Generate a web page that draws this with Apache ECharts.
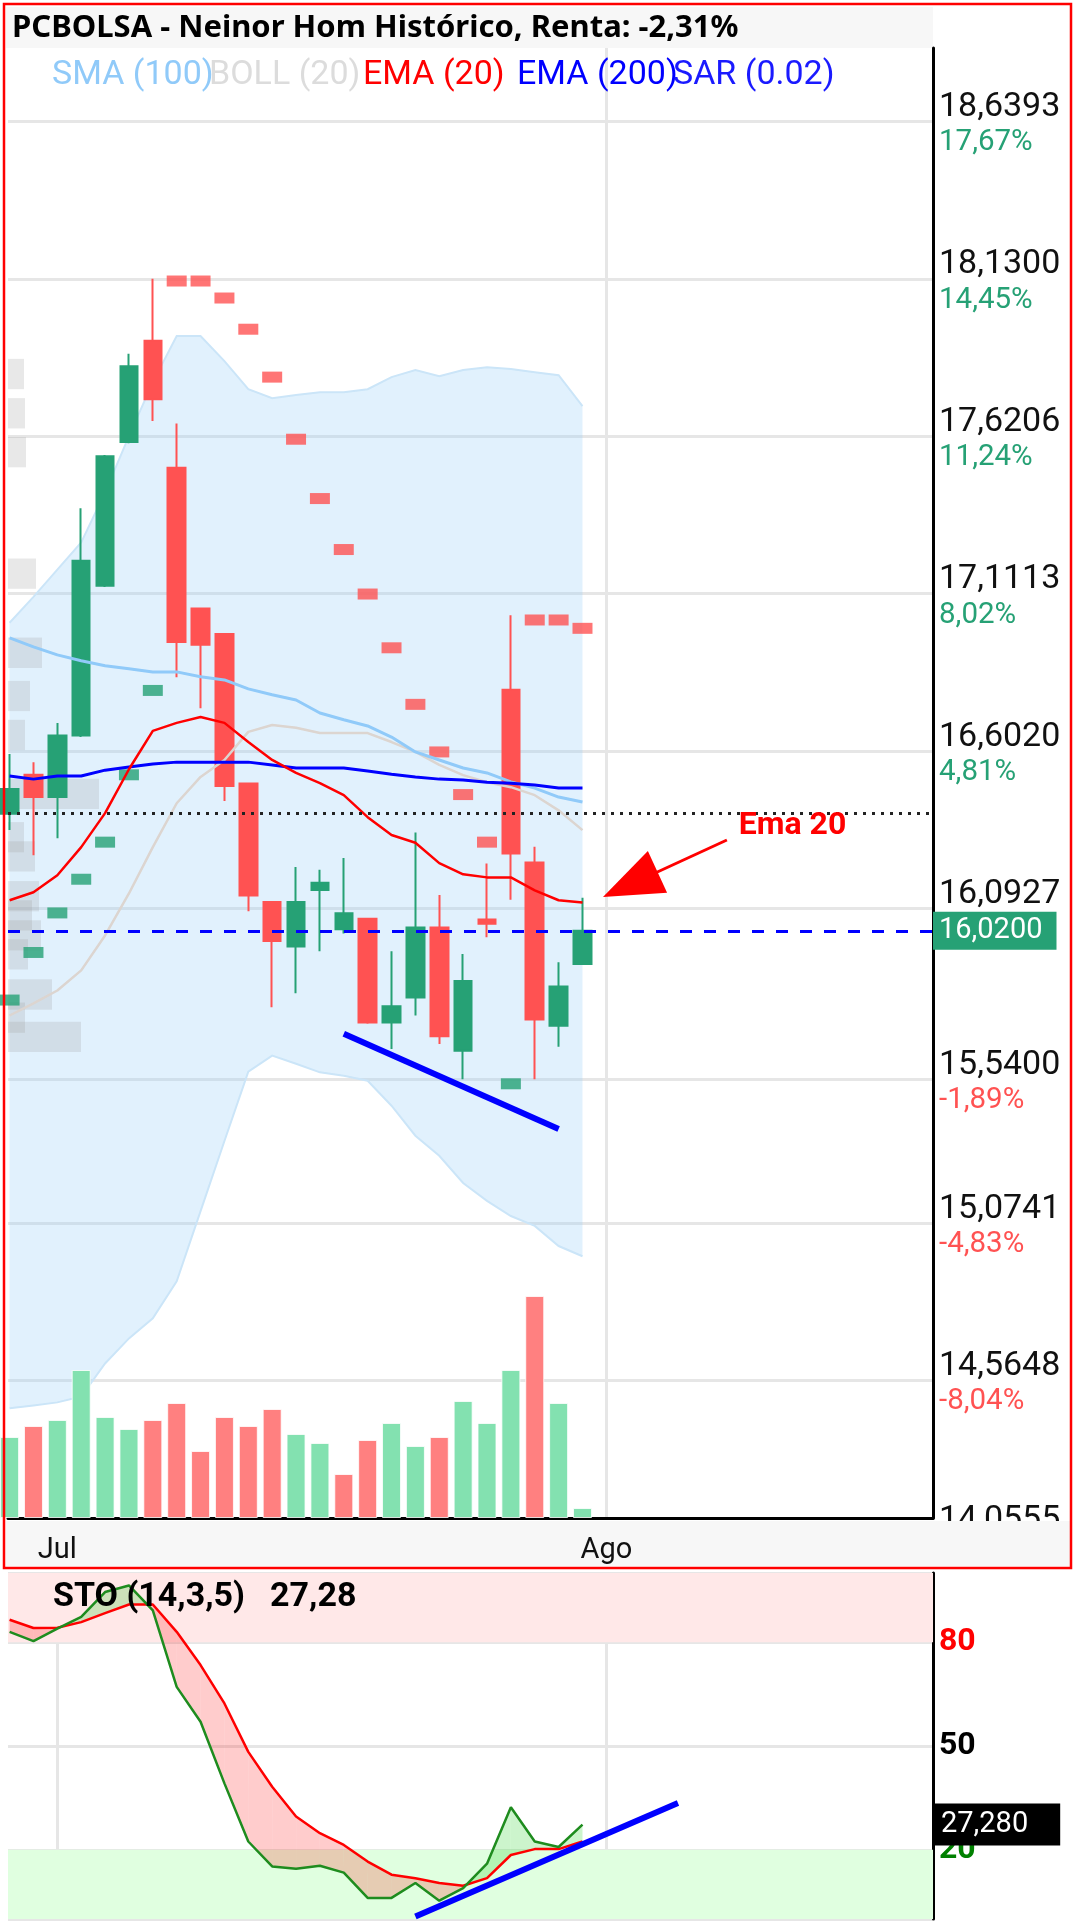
<!DOCTYPE html>
<html>
<head>
<meta charset="utf-8">
<script src="https://cdn.jsdelivr.net/npm/echarts@6/dist/echarts.min.js"></script>
<style>
  html, body { margin: 0; padding: 0; background: #fff; }
  #chart { width: 1076px; height: 1925px; }
</style>
</head>
<body>
<div id="chart"></div>
<script>
// sessions shown (index 0..24), month marks on the time axis
const dates = ['2024-06-27', '2024-06-28', '2024-07-01', '2024-07-02', '2024-07-03', '2024-07-04', '2024-07-05',
  '2024-07-08', '2024-07-09', '2024-07-10', '2024-07-11', '2024-07-12', '2024-07-15', '2024-07-16', '2024-07-17',
  '2024-07-18', '2024-07-19', '2024-07-22', '2024-07-23', '2024-07-24', '2024-07-25', '2024-07-26', '2024-07-29',
  '2024-07-30', '2024-07-31'];
const monthTicks = [2, 25];
const monthLabels = ['Jul', 'Ago'];

// OHLC
const open = [16.399, 16.525, 16.453, 16.652, 17.137, 17.602, 17.930, 17.519, 17.063, 16.981, 16.497, 16.113, 15.969,
  16.152, 16.025, 16.059, 15.723, 15.804, 16.031, 15.632, 16.057, 16.800, 16.241, 15.713, 15.913];
const close = [16.479, 16.453, 16.652, 17.218, 17.556, 17.847, 17.740, 16.955, 16.946, 16.489, 16.134, 15.987, 16.113,
  16.176, 16.077, 15.723, 15.776, 16.031, 15.679, 15.858, 16.043, 16.270, 15.733, 15.840, 16.020];
const low = [16.346, 16.265, 16.320, 16.647, 17.133, 17.598, 17.670, 16.841, 16.740, 16.440, 16.083, 15.773, 15.818,
  15.954, 16.011, 15.719, 15.638, 15.746, 15.654, 15.540, 15.999, 16.121, 15.540, 15.645, 15.910];
const high = [16.592, 16.566, 16.693, 17.388, 17.560, 17.888, 18.130, 17.662, 17.063, 16.981, 16.497, 16.113, 16.227,
  16.218, 16.256, 16.059, 15.954, 16.338, 16.136, 15.945, 16.238, 17.041, 16.292, 15.918, 16.127];
const volume = [81, 92, 98, 148, 101, 89, 98, 115, 67, 101, 92, 109, 84, 75, 44, 78, 95, 72, 81, 117, 95, 148, 222, 115, 10];

// indicators
const sar = [15.796, 15.950, 16.078, 16.187, 16.307, 16.525, 16.798, 18.123, 18.123, 18.068, 17.967, 17.812, 17.611,
  17.419, 17.254, 17.110, 16.936, 16.753, 16.599, 16.461, 16.307, 15.525, 17.026, 17.026, 16.999];
const bollUpper = [17.017, 17.101, 17.189, 17.277, 17.439, 17.621, 17.796, 17.945, 17.945, 17.864, 17.773, 17.744, 17.754,
  17.763, 17.763, 17.773, 17.812, 17.835, 17.815, 17.835, 17.844, 17.838, 17.828, 17.818, 17.718];
const bollLower = [14.475, 14.484, 14.494, 14.513, 14.620, 14.701, 14.766, 14.886, 15.113, 15.340, 15.564, 15.616, 15.590,
  15.562, 15.551, 15.535, 15.454, 15.357, 15.292, 15.204, 15.146, 15.097, 15.065, 15.000, 14.967];
const bollMid = [15.746, 15.785, 15.827, 15.892, 16.005, 16.141, 16.291, 16.433, 16.518, 16.573, 16.664, 16.686, 16.677,
  16.660, 16.660, 16.660, 16.631, 16.599, 16.557, 16.524, 16.501, 16.485, 16.459, 16.410, 16.346];
const sma100 = [16.968, 16.939, 16.913, 16.894, 16.878, 16.868, 16.858, 16.858, 16.842, 16.832, 16.803, 16.784, 16.767,
  16.725, 16.703, 16.683, 16.647, 16.599, 16.573, 16.547, 16.531, 16.502, 16.482, 16.453, 16.437];
const ema200 = [16.521, 16.511, 16.521, 16.521, 16.540, 16.550, 16.560, 16.566, 16.566, 16.566, 16.566, 16.557, 16.547,
  16.547, 16.547, 16.537, 16.527, 16.518, 16.511, 16.508, 16.501, 16.498, 16.492, 16.482, 16.482];
const ema20 = [16.119, 16.145, 16.200, 16.291, 16.401, 16.543, 16.667, 16.693, 16.712, 16.693, 16.631, 16.573, 16.531,
  16.498, 16.459, 16.388, 16.330, 16.305, 16.239, 16.203, 16.193, 16.193, 16.151, 16.119, 16.112];

// volume at price (left profile)
const profilePrice = [17.822, 17.695, 17.569, 17.176, 16.920, 16.780, 16.654, 16.463, 16.323, 16.261, 16.132, 16.070,
  16.005, 15.944, 15.814, 15.739, 15.677];
const profileVol = [16, 17, 18, 28, 34, 22, 17, 91, 16, 27, 31, 24, 33, 20, 44, 17, 73];
const profileBin = 0.098;

// stochastic (14,3,5)
const stoK = [83.0, 80.3, 83.9, 87.3, 94.5, 96.4, 89.2, 67.1, 57.0, 39.2, 22.4, 15.2, 14.5, 15.4, 13.4, 6.1, 6.1, 10.4,
  5.3, 8.9, 16.0, 32.3, 22.4, 20.8, 27.28];
const stoD = [86.5, 84.1, 84.2, 85.8, 88.4, 90.9, 90.9, 83.0, 73.4, 62.3, 48.3, 38.2, 29.6, 24.8, 21.4, 16.6, 12.8, 11.8,
  10.4, 9.6, 11.8, 18.5, 20.2, 20.2, 22.4];
const stoTicks = [20, 50, 80];

// levels and drawings
const lastPrice = 16.02;
const refPrice = 16.40;
const priceTrend = [[14, 15.687], [23, 15.379]];
const stoTrend = [[17, 0.75], [28, 33.5]];
const arrowLine = [[30.05, 16.314], [26.0, 16.17]];
const arrowText = [32.8, 16.359];

// price axis ticks
const priceTicks = [18.6393, 18.13, 17.6206, 17.1113, 16.602, 16.0927, 15.54, 15.0741, 14.5648, 14.0555];
const priceLabels = ['18,6393', '18,1300', '17,6206', '17,1113', '16,6020', '16,0927', '15,5400', '15,0741', '14,5648', '14,0555'];
const pctLabels = ['17,67%', '14,45%', '11,24%', '8,02%', '4,81%', '1,60%', '-1,89%', '-4,83%', '-8,04%', '-11,26%'];

const GREEN = '#26a175';
const RED = '#ff5252';
const xMin = -0.067, xMax = 38.684;

const chart = echarts.init(document.getElementById('chart'));

function tickLabel(i) {
  const cls = pctLabels[i].charAt(0) === '-' ? 'n' : 'u';
  return '{p|' + priceLabels[i] + '}\n{' + cls + '|' + pctLabels[i] + '}';
}
const tickRich = {
  p: { fontSize: 34, color: '#111', lineHeight: 32, fontFamily: 'Roboto' },
  u: { fontSize: 29.5, color: GREEN, lineHeight: 39, fontFamily: 'Roboto' },
  n: { fontSize: 29.5, color: RED, lineHeight: 39, fontFamily: 'Roboto' }
};

function bandItem(params, api) {
  if (params.dataIndex !== 0) return null;
  const up = bollUpper.map((v, i) => api.coord([i, v]));
  const lo = bollLower.map((v, i) => api.coord([i, v]));
  return {
    type: 'group',
    children: [
      { type: 'polygon', shape: { points: up.concat(lo.slice().reverse()) }, style: { fill: 'rgba(144,202,249,0.27)' } },
      { type: 'polyline', shape: { points: up }, style: { stroke: '#cbe5f8', lineWidth: 2, fill: null } },
      { type: 'polyline', shape: { points: lo }, style: { stroke: '#cbe5f8', lineWidth: 2, fill: null } }
    ]
  };
}

function profileItem(params, api) {
  const vol = api.value(0), p = api.value(1);
  const a = api.coord([0, p + profileBin / 2]);
  const b = api.coord([vol, p - profileBin / 2]);
  return {
    type: 'rect',
    shape: { x: a[0], y: a[1], width: b[0] - a[0], height: b[1] - a[1] },
    style: { fill: 'rgba(160,160,160,0.24)' }
  };
}

// fill between %K and %D, pink where %D is above, green where %K is above
function stoFillItem(params, api) {
  const i = params.dataIndex;
  const k0 = stoK[i], k1 = stoK[i + 1], d0 = stoD[i], d1 = stoD[i + 1];
  const s0 = d0 - k0, s1 = d1 - k1;
  const pink = 'rgba(255,0,0,0.2)', green = 'rgba(0,200,0,0.2)';
  const K0 = api.coord([i, k0]), K1 = api.coord([i + 1, k1]);
  const D0 = api.coord([i, d0]), D1 = api.coord([i + 1, d1]);
  if (s0 * s1 >= 0) {
    return { type: 'polygon', shape: { points: [K0, K1, D1, D0] }, style: { fill: (s0 + s1) > 0 ? pink : green } };
  }
  const t = s0 / (s0 - s1);
  const C = api.coord([i + t, k0 + t * (k1 - k0)]);
  return {
    type: 'group',
    children: [
      { type: 'polygon', shape: { points: [K0, C, D0] }, style: { fill: s0 > 0 ? pink : green } },
      { type: 'polygon', shape: { points: [C, K1, D1] }, style: { fill: s1 > 0 ? pink : green } }
    ]
  };
}

function lineSeries(name, values, color, width) {
  return {
    name: name, type: 'line', xAxisIndex: 0, yAxisIndex: 0,
    data: values.map((v, i) => [i, v]), symbol: 'none',
    lineStyle: { color: color, width: width }, silent: true
  };
}

function baseGraphic() {
  const legend = { verticalAlign: 'middle', font: '34px Roboto' };
  return [
    { type: 'rect', z: -1, shape: { x: 6, y: 7, width: 927, height: 41 }, style: { fill: '#f7f7f7' } },
    { type: 'text', x: 12, y: 28, style: { text: 'PCBOLSA - Neinor Hom Histórico, Renta: -2,31%', fill: '#000',
      font: 'bold 31px "Noto Sans"', verticalAlign: 'middle' } },
    { type: 'text', x: 52, y: 75, style: Object.assign({ text: 'SMA (100)', fill: '#90caf9' }, legend) },
    { type: 'text', x: 209, y: 75, style: Object.assign({ text: 'BOLL (20)', fill: '#dcdcdc' }, legend) },
    { type: 'text', x: 363, y: 75, style: Object.assign({ text: 'EMA (20)', fill: '#ff0000' }, legend) },
    { type: 'text', x: 517, y: 75, style: Object.assign({ text: 'EMA (200)', fill: '#0000ff' }, legend) },
    { type: 'text', x: 673, y: 75, style: Object.assign({ text: 'SAR (0.02)', fill: '#1a1aff' }, legend) },
    { type: 'rect', z: -1, shape: { x: 6, y: 1521, width: 1064, height: 45 }, style: { fill: '#f7f7f7' } },
    { type: 'text', x: 53, y: 1597, z: 50, style: { text: 'STO (14,3,5)', fill: '#000', font: 'bold 34px Roboto', verticalAlign: 'middle' } },
    { type: 'text', x: 270, y: 1597, z: 50, style: { text: '27,28', fill: '#000', font: 'bold 34px Roboto', verticalAlign: 'middle' } },
    { type: 'rect', z: 100, shape: { x: 4, y: 4, width: 1067, height: 1564 }, style: { fill: null, stroke: '#ff0000', lineWidth: 2.5 } }
  ];
}

const option = {
  animation: false,
  textStyle: { fontFamily: 'Roboto' },
  grid: [
    { left: 8, right: 143, top: 48, bottom: 407 },
    { left: 8, right: 143, top: 1573, bottom: 6 }
  ],
  xAxis: [
    {
      type: 'value', gridIndex: 0, min: xMin, max: xMax,
      axisLine: { show: true, onZero: false, lineStyle: { color: '#000', width: 3 } },
      axisTick: { show: false, customValues: [monthTicks[1]] },
      splitLine: { show: true, lineStyle: { color: '#e6e6e6', width: 3 } },
      axisLabel: {
        customValues: monthTicks, color: '#111', fontSize: 29, margin: 18,
        formatter: v => monthLabels[monthTicks.indexOf(Math.round(v))] || ''
      }
    },
    { type: 'value', gridIndex: 0, min: 0, max: 925, show: false },
    {
      type: 'value', gridIndex: 1, min: xMin, max: xMax,
      axisLine: { show: false, onZero: false }, axisLabel: { show: false },
      axisTick: { show: false, customValues: monthTicks },
      splitLine: { show: true, lineStyle: { color: '#e6e6e6', width: 3 } }
    }
  ],
  yAxis: [
    {
      type: 'value', gridIndex: 0, position: 'right', min: 14.1198, max: 18.8771,
      axisLine: { show: true, onZero: false, lineStyle: { color: '#000', width: 3 } },
      axisTick: { show: false, customValues: priceTicks.slice(0, 9) },
      splitLine: { show: true, lineStyle: { color: '#e6e6e6', width: 3 } },
      axisLabel: {
        customValues: priceTicks.slice(0, 9), margin: 6, rich: tickRich, padding: [11, 0, 0, 0],
        formatter: v => {
          const i = priceTicks.findIndex(t => Math.abs(t - v) < 1e-6);
          return i < 0 ? '' : tickLabel(i);
        }
      }
    },
    { type: 'value', gridIndex: 0, min: 0, max: 1470, show: false, axisLine: { onZero: false } },
    {
      type: 'value', gridIndex: 1, position: 'right', min: 0, max: 100,
      axisLine: { show: true, onZero: false, lineStyle: { color: '#000', width: 3 } },
      axisTick: { show: false, customValues: [0, 20, 50, 80, 100] },
      splitLine: { show: true, lineStyle: { color: '#e6e6e6', width: 3 } },
      axisLabel: {
        customValues: stoTicks, margin: 6,
        formatter: v => (v === 80 ? '{r|80}' : v === 50 ? '{k|50}' : '{g|20}'),
        rich: {
          r: { color: '#ff0000', fontSize: 32, fontWeight: 'bold' },
          k: { color: '#000', fontSize: 32, fontWeight: 'bold' },
          g: { color: '#008000', fontSize: 32, fontWeight: 'bold' }
        }
      }
    }
  ],
  series: [
    {
      name: 'Volumen', type: 'bar', xAxisIndex: 0, yAxisIndex: 1, barWidth: 19, silent: true,
      data: volume.map((v, i) => ({
        value: [i, v],
        itemStyle: { color: (i === 0 || close[i] >= close[i - 1]) ? '#83e1b0' : '#ff8080' }
      })),
      itemStyle: { borderColor: 'rgba(255,255,255,0.8)', borderWidth: 1 }
    },
    {
      name: 'BOLL', type: 'custom', xAxisIndex: 0, yAxisIndex: 0, silent: true,
      data: [[0, bollUpper[0]]], renderItem: bandItem
    },
    {
      name: 'Perfil', type: 'custom', xAxisIndex: 1, yAxisIndex: 0, silent: true,
      data: profilePrice.map((p, i) => [profileVol[i], p]), renderItem: profileItem
    },
    lineSeries('BOLL (20)', bollMid, '#dcd5d0', 2.5),
    lineSeries('SMA (100)', sma100, '#90caf9', 3),
    lineSeries('EMA (200)', ema200, '#0000ff', 3),
    lineSeries('EMA (20)', ema20, '#ff0000', 2.5),
    {
      name: 'PCBOLSA', type: 'candlestick', xAxisIndex: 0, yAxisIndex: 0, barWidth: 18,
      encode: { x: 0, y: [1, 2, 3, 4] },
      data: open.map((o, i) => [i, o, close[i], low[i], high[i]]),
      itemStyle: { color: GREEN, color0: RED, borderColor: GREEN, borderColor0: RED, borderWidth: 2 }
    },
    {
      name: 'SAR (0.02)', type: 'scatter', xAxisIndex: 0, yAxisIndex: 0, symbol: 'rect', symbolSize: [20, 11],
      data: sar.map((v, i) => ({ value: [i, v], itemStyle: { color: v > high[i] ? RED : GREEN } })),
      markLine: {
        silent: true, symbol: 'none', animation: false,
        data: [
          { yAxis: refPrice, lineStyle: { color: '#222', width: 3, type: [3, 6] }, label: { show: false } },
          {
            yAxis: lastPrice, lineStyle: { color: '#0000ff', width: 3, type: [12, 12] },
            label: {
              show: true, position: 'end', distance: 0, formatter: '16,0200', color: '#fff',
              backgroundColor: GREEN, fontSize: 29, padding: [5, 14, 4, 6]
            }
          },
          [
            { coord: priceTrend[0], lineStyle: { color: '#0000ff', width: 6, type: 'solid' }, label: { show: false } },
            { coord: priceTrend[1] }
          ],
          [
            { coord: arrowLine[0], symbol: 'none', lineStyle: { color: '#ff0000', width: 3, type: 'solid' }, label: { show: false } },
            { coord: arrowLine[1], symbol: 'triangle', symbolSize: [46, 60] }
          ]
        ]
      },
      markPoint: {
        silent: true,
        data: [{
          coord: arrowText, symbol: 'rect', symbolSize: 1, itemStyle: { color: 'rgba(0,0,0,0)' },
          label: { show: true, position: 'inside', formatter: 'Ema 20', color: '#ff0000', fontSize: 32, fontWeight: 'bold' }
        }]
      }
    },
    {
      name: 'zones', type: 'line', xAxisIndex: 2, yAxisIndex: 2, data: [], silent: true,
      markArea: {
        silent: true,
        data: [
          [{ yAxis: 80, itemStyle: { color: '#ffe8e8' } }, { yAxis: 100 }],
          [{ yAxis: 0, itemStyle: { color: '#e0ffe0' } }, { yAxis: 20 }]
        ]
      }
    },
    {
      name: 'STO fill', type: 'custom', xAxisIndex: 2, yAxisIndex: 2, silent: true,
      data: stoK.slice(0, -1).map((v, i) => [i, v]), renderItem: stoFillItem
    },
    {
      name: '%D', type: 'line', xAxisIndex: 2, yAxisIndex: 2, symbol: 'none', silent: true,
      data: stoD.map((v, i) => [i, v]), lineStyle: { color: '#ff0000', width: 2.5 }
    },
    {
      name: '%K', type: 'line', xAxisIndex: 2, yAxisIndex: 2, symbol: 'none', silent: true,
      data: stoK.map((v, i) => [i, v]), lineStyle: { color: '#1e8c1e', width: 2.5 },
      markLine: {
        silent: true, symbol: 'none', animation: false,
        data: [
          {
            yAxis: stoK[stoK.length - 1], lineStyle: { color: 'rgba(0,0,0,0)', width: 1 },
            label: {
              show: true, position: 'end', distance: 0, formatter: '27,280', color: '#fff',
              backgroundColor: '#000', fontSize: 29, padding: [7, 32, 6, 8]
            }
          },
          [
            { coord: stoTrend[0], lineStyle: { color: '#0000ff', width: 6, type: 'solid' }, label: { show: false } },
            { coord: stoTrend[1] }
          ]
        ]
      }
    }
  ],
  graphic: baseGraphic()
};

chart.setOption(option);

// lowest price tick sits below the plot; only its upper line peeks above the date band
const yLow = chart.convertToPixel({ yAxisIndex: 0 }, priceTicks[9]);
const g = baseGraphic();
g.push({
  type: 'text', x: 939, y: yLow - 17, z: -2,
  style: { text: priceLabels[9], fill: '#111', font: '34px Roboto', verticalAlign: 'middle' }
});
chart.setOption({ graphic: g }, { replaceMerge: ['graphic'] });
</script>
</body>
</html>
